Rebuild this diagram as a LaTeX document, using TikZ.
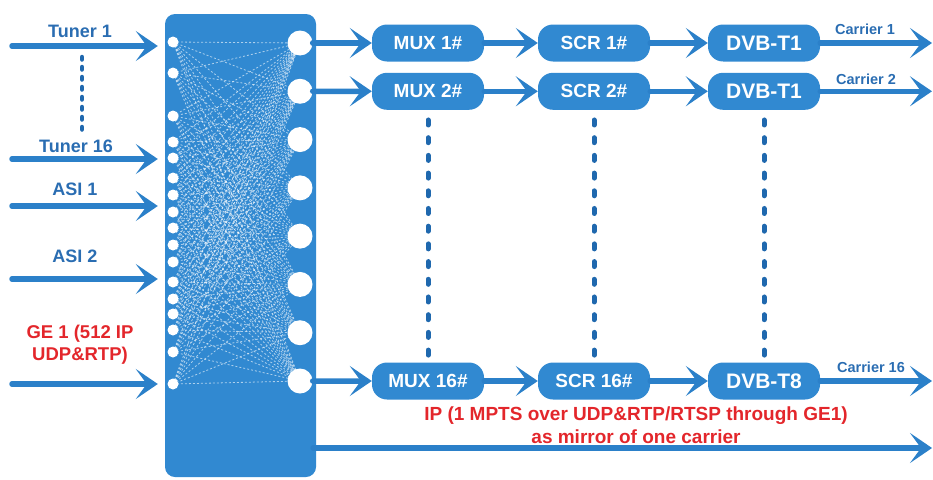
\documentclass[tikz,border=0pt]{standalone}
\usepackage{fontspec}
\setmainfont{Liberation Sans}
\usetikzlibrary{arrows.meta}
\definecolor{boxblue}{HTML}{3189D1}
\definecolor{arrblue}{HTML}{2B80C9}
\definecolor{dotblue}{HTML}{1F68AE}
\definecolor{lblblue}{HTML}{2A6DB2}
\definecolor{redtxt}{HTML}{E3262B}
\begin{document}
\begin{tikzpicture}[x=1pt,y=-1pt,
  harrow/.style={draw=arrblue, line width=5.5pt, line cap=round,
    -{Stealth[length=22pt,width=30pt,inset=11pt]}},
  blk/.style={fill=boxblue, draw=none, rounded corners=15pt, minimum width=112pt,
    minimum height=37pt, inner sep=0pt, text=white,
    font=\fontsize{19}{19}\selectfont\bfseries},
  dvbblk/.style={blk, font=\fontsize{21}{21}\selectfont\bfseries},
  inlbl/.style={text=lblblue, inner sep=0pt, font=\fontsize{18}{18}\selectfont\bfseries},
  carlbl/.style={text=lblblue, inner sep=0pt, font=\fontsize{14.5}{14.5}\selectfont\bfseries},
  redlbl/.style={text=redtxt, inner sep=0pt, align=center},
  lcirc/.style={circle, fill=white, draw=none, minimum size=11pt, inner sep=0pt},
  rcirc/.style={circle, fill=white, draw=none, minimum size=25pt, inner sep=0pt},
  mesh/.style={draw=white, opacity=0.6, line width=0.8pt, dash pattern=on 2pt off 2pt},
  vdots/.style={draw=dotblue, line width=5pt, line cap=round, dash pattern=on 5pt off 12.7pt},
  tdots/.style={draw=dotblue, line width=4.5pt, line cap=round, dash pattern=on 2.5pt off 7.5pt}
]
\useasboundingbox (0,0) rectangle (933,479);

% matrix box
\node[fill=boxblue, draw=none, rounded corners=10pt, minimum width=151pt,
  minimum height=463pt, inner sep=0pt] (box) at (240.5,245.5) {};

% port coordinates
\foreach \yy [count=\i] in {42,73,116,142,158,178,195,212,228,245,262,282,299,314,330,352,384}
  \coordinate (pl\i) at (173,\yy);
\foreach \i in {1,...,8}
  \coordinate (pr\i) at (300,{43+(\i-1)*48.2857});

% mesh
\foreach \i in {1,...,17}
  \foreach \j in {1,...,8}
    \draw[mesh] (pl\i) -- (pr\j);

% ports
\foreach \i in {1,...,17}
  \node[lcirc] (l\i) at (pl\i) {};
\foreach \i in {1,...,8}
  \node[rcirc] (r\i) at (pr\i) {};

% inputs
\node[inlbl] (lt1) at (80,31) {Tuner 1};
\node[inlbl] (lt16) at (76,146) {Tuner 16};
\node[inlbl] (la1) at (75,189) {ASI 1};
\node[inlbl] (la2) at (75,256) {ASI 2};
\node[redlbl, font=\fontsize{18.5}{22}\selectfont\bfseries] (lge) at (80,345) {GE 1 (512 IP\\UDP\&RTP)};

\coordinate (it1) at (12,46);
\coordinate (it16) at (12,159);
\coordinate (ia1) at (12,206);
\coordinate (ia2) at (12,279);
\coordinate (ige) at (12,384);
\foreach \c in {it1,it16,ia1,ia2,ige}
  \draw[harrow, shorten >=7pt] (\c) -- (\c -| box.west);

\coordinate (td1) at (82,57);
\coordinate (td2) at (82,135);
\draw[tdots] (td1) -- (td2);

% processing chain
\node[blk] (mux1) at (428,43) {MUX 1\#};
\node[blk] (scr1) at (594,43) {SCR 1\#};
\node[dvbblk] (dvb1) at (764,43) {DVB-T1};
\node[blk] (mux2) at (428,91.29) {MUX 2\#};
\node[blk] (scr2) at (594,91.29) {SCR 2\#};
\node[dvbblk] (dvb2) at (764,91.29) {DVB-T1};
\node[blk] (mux16) at (428,381) {MUX 16\#};
\node[blk] (scr16) at (594,381) {SCR 16\#};
\node[dvbblk] (dvb16) at (764,381) {DVB-T8};

\coordinate (c1) at (932,43);
\coordinate (c2) at (932,91.29);
\coordinate (c16) at (932,381);

\draw[harrow] (r1.east) -- (mux1.west);
\draw[harrow] (r2.east) -- (mux2.west);
\draw[harrow] (r8.east) -- (mux16.west);
\draw[harrow] (mux1.east) -- (scr1.west);
\draw[harrow] (mux2.east) -- (scr2.west);
\draw[harrow] (mux16.east) -- (scr16.west);
\draw[harrow] (scr1.east) -- (dvb1.west);
\draw[harrow] (scr2.east) -- (dvb2.west);
\draw[harrow] (scr16.east) -- (dvb16.west);
\draw[harrow] (dvb1.east) -- (c1);
\draw[harrow] (dvb2.east) -- (c2);
\draw[harrow] (dvb16.east) -- (c16);

\node[carlbl] (lc1) at (865,29) {Carrier 1};
\node[carlbl] (lc2) at (866,79) {Carrier 2};
\node[carlbl] (lc16) at (871,367) {Carrier 16};

\draw[vdots, shorten <=10pt, shorten >=6pt] (mux2.south) -- (mux16.north);
\draw[vdots, shorten <=10pt, shorten >=6pt] (scr2.south) -- (scr16.north);
\draw[vdots, shorten <=10pt, shorten >=6pt] (dvb2.south) -- (dvb16.north);

% IP mirror output
\coordinate (ipend) at (932,448);
\draw[harrow] ([xshift=-3pt]box.east |- ipend) -- (ipend);
\node[redlbl, font=\fontsize{19}{23}\selectfont\bfseries] (iplbl) at (636,425)
  {IP (1 MPTS over UDP\&RTP/RTSP through GE1)\\as mirror of one carrier};
\end{tikzpicture}
\end{document}
